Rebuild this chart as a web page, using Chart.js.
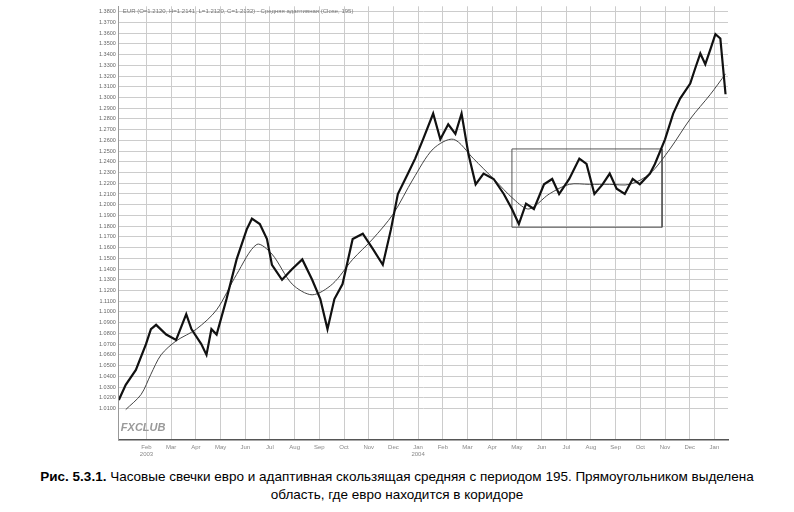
<!DOCTYPE html>
<html><head><meta charset="utf-8">
<script src="https://cdn.jsdelivr.net/npm/chart.js@4"></script>
<style>
body{margin:0;background:#fff;font-family:"Liberation Sans",Arial,sans-serif}
#wrap{position:absolute;left:96px;top:0;width:636px;height:462px}
#cap{position:absolute;left:0;top:468px;width:794px;text-align:center;font-size:13.5px;line-height:18px;color:#000}
</style></head><body>
<div id="wrap"><canvas id="c"></canvas></div>
<div id="cap"><b>Рис. 5.3.1.</b> Часовые свечки евро и адаптивная скользящая средняя с периодом 195. Прямоугольником выделена<br>область, где евро находится в коридоре</div>
<script>
// months counted from 1 Jan 2003
var monthNames = ['Jan','Feb','Mar','Apr','May','Jun','Jul','Aug','Sep','Oct','Nov','Dec'];
var priceX = [-0.12,0.16,0.57,0.98,1.18,1.39,1.8,2.2,2.61,2.82,3.22,3.43,3.63,3.84,4.24,4.65,5.06,5.27,5.59,5.88,6.08,6.49,6.9,7.31,7.71,8.04,8.33,8.61,8.94,9.35,9.76,10.16,10.57,10.9,11.18,11.59,11.88,12.2,12.61,12.9,13.22,13.51,13.76,14.04,14.33,14.65,15.06,15.47,15.8,16.08,16.37,16.69,17.1,17.43,17.71,18.12,18.53,18.82,19.14,19.47,19.76,20.04,20.37,20.69,20.98,21.39,21.59,22,22.33,22.61,23.02,23.22,23.43,23.63,23.84,24.04,24.24,24.45];
var priceY = [1.018,1.032,1.046,1.07,1.084,1.088,1.079,1.074,1.098,1.084,1.07,1.06,1.084,1.079,1.112,1.149,1.177,1.187,1.182,1.168,1.144,1.13,1.14,1.149,1.13,1.112,1.084,1.112,1.126,1.168,1.173,1.159,1.144,1.177,1.21,1.229,1.243,1.261,1.285,1.261,1.275,1.266,1.285,1.247,1.219,1.229,1.224,1.21,1.196,1.182,1.201,1.196,1.219,1.224,1.21,1.224,1.243,1.238,1.21,1.219,1.229,1.215,1.21,1.224,1.219,1.229,1.238,1.261,1.285,1.299,1.313,1.327,1.341,1.331,1.345,1.359,1.355,1.303];
var maX = [0.16,0.78,1.18,1.59,2.2,3.02,3.84,4.65,5.47,6.08,6.9,7.71,8.53,9.35,10.16,10.98,11.8,12.61,13.43,14.24,15.06,15.88,16.49,17.31,18.12,18.94,19.76,20.57,21.39,22.2,23.02,23.84,24.45];
var maY = [1.009,1.023,1.042,1.06,1.073,1.084,1.102,1.135,1.163,1.154,1.126,1.116,1.126,1.149,1.168,1.191,1.224,1.252,1.261,1.243,1.224,1.205,1.196,1.21,1.219,1.219,1.219,1.219,1.229,1.252,1.28,1.303,1.322];
var boxX = [15.8,21.88,21.88,15.8,15.8];
var boxY = [1.252,1.252,1.179,1.179,1.252];

function pts(xs, ys){ return xs.map(function(x,i){ return {x:x, y:ys[i]}; }); }

var header = {
  id:'header',
  afterDraw:function(ch){
    var c=ch.ctx, a=ch.chartArea;
    c.save();
    c.font='6px "Liberation Sans"'; c.fillStyle='#777'; c.textBaseline='middle';
    c.fillText('EUR (O=1.2120, H=1.2141, L=1.2120, C=1.2132) - Средняя адаптивная (Close, 195)', a.left+4, a.top+5);
    c.font='italic bold 11px "Liberation Sans"'; c.fillStyle='#999';
    c.fillText('FXCLUB', a.left+2, a.bottom-12);
    c.restore();
  }
};

new Chart(document.getElementById('c'), {
  type:'line',
  data:{datasets:[
    {data:pts(priceX,priceY), borderColor:'#111', borderWidth:2.2, pointRadius:0, tension:0},
    {data:pts(maX,maY), borderColor:'#444', borderWidth:1, pointRadius:0, tension:0.3},
    {data:pts(boxX,boxY), borderColor:'#555', borderWidth:1, pointRadius:0, tension:0}
  ]},
  options:{
    responsive:true, maintainAspectRatio:false, animation:false,
    layout:{padding:{top:4,right:4}},
    plugins:{legend:{display:false}, tooltip:{enabled:false}},
    scales:{
      x:{type:'linear', min:-0.12, max:24.55,
        border:{color:'#555', width:1.5},
        grid:{color:'#ccc', borderDash:[2,2], drawTicks:false},
        afterBuildTicks:function(ax){ var t=[]; for(var i=1;i<=24;i++) t.push({value:i}); ax.ticks=t; },
        ticks:{font:{size:6}, color:'#888', autoSkip:false, maxRotation:0, padding:4,
          callback:function(v){ var n=monthNames[v%12]; if(v===1) return [n,'2003']; if(v===12) return [n,'2004']; return n; }}
      },
      y:{min:0.981, max:1.385,
        border:{color:'#999'},
        grid:{color:'#ccc', borderDash:[2,2], drawTicks:false},
        afterBuildTicks:function(ax){ var t=[]; for(var i=101;i<=138;i++) t.push({value:i/100}); ax.ticks=t; },
        ticks:{font:{size:5.5}, color:'#666', autoSkip:false, padding:3,
          callback:function(v){ return v.toFixed(4); }}
      }
    }
  },
  plugins:[header]
});
</script>
</body></html>
